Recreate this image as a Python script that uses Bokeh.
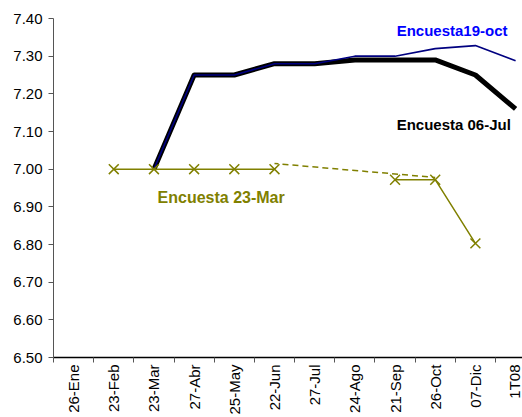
import math
from bokeh.plotting import figure
from bokeh.models import Range1d, FixedTicker, Label
from bokeh.embed import file_html
from bokeh.resources import INLINE

nan = float("nan")

categories = ["26-Ene", "23-Feb", "23-Mar", "27-Abr", "25-May", "22-Jun",
              "27-Jul", "24-Ago", "21-Sep", "26-Oct", "07-Dic", "1T08"]
enc_06jul = [nan, nan, 7.00, 7.25, 7.25, 7.28, 7.28, 7.29, 7.29, 7.29, 7.25, 7.16]
enc_19oct = [nan, nan, 7.00, 7.25, 7.25, 7.28, 7.28, 7.30, 7.30, 7.32, 7.328, 7.288]
enc_23mar = [nan, 7.00, 7.00, 7.00, 7.00, 7.00, nan, nan, 6.972, 6.972, 6.803, nan]
trend_cats = ["22-Jun", "26-Oct"]
trend_vals = [7.015, 6.978]
y_ticks = [6.5, 6.6, 6.7, 6.8, 6.9, 7.0, 7.1, 7.2, 7.3, 7.4]

xs = [i + 0.5 for i in range(len(categories))]
trend_x = [categories.index(c) + 0.5 for c in trend_cats]

FONT = "Liberation Sans"

p = figure(width=522, height=417, output_backend="svg", toolbar_location=None,
           x_range=Range1d(0, 11.672), y_range=Range1d(6.5, 7.4),
           min_border_left=53, min_border_right=0, min_border_top=18,
           min_border_bottom=60, outline_line_color=None,
           background_fill_color="white", border_fill_color="white")
p.grid.visible = False

# x axis
xa = p.xaxis[0]
xa.ticker = FixedTicker(ticks=xs, minor_ticks=list(range(len(categories))))
xa.major_label_overrides = {x: c for x, c in zip(xs, categories)}
xa.major_label_orientation = math.pi / 2
xa.major_tick_out = 0
xa.major_tick_in = 0
xa.minor_tick_out = 5
xa.minor_tick_in = 0
xa.minor_tick_line_color = "#555555"
xa.axis_line_color = "black"
xa.axis_line_width = 1.5
xa.major_label_text_font = FONT
xa.major_label_text_font_size = "15px"
xa.major_label_text_color = "black"
xa.major_label_standoff = 2

# y axis
ya = p.yaxis[0]
ya.ticker = FixedTicker(ticks=y_ticks)
ya.major_label_overrides = {t: f"{t:.2f}" for t in y_ticks}
ya.minor_tick_line_color = None
ya.major_tick_out = 5
ya.major_tick_in = 0
ya.major_tick_line_color = "#555555"
ya.axis_line_color = "#555555"
ya.major_label_text_font = FONT
ya.major_label_text_font_size = "15px"
ya.major_label_text_color = "black"
ya.major_label_standoff = 6

# series
p.line(xs, enc_06jul, line_color="black", line_width=5, line_join="round")
p.line(xs, enc_19oct, line_color="#000080", line_width=1.6)
p.line(trend_x, trend_vals, line_color="#808000", line_width=1.5,
       line_dash="6 4", line_dash_offset=2)
p.line(xs, enc_23mar, line_color="#808000", line_width=1.5)
p.scatter(xs, enc_23mar, marker="x", size=14, line_color="#808000", line_width=1.5)

# labels
p.add_layout(Label(x=8.54, y=7.368, text="Encuesta19-oct", text_color="#0000FF",
                   text_font=FONT, text_font_style="bold", text_font_size="15px",
                   text_baseline="alphabetic"))
p.add_layout(Label(x=8.54, y=7.119, text="Encuesta 06-Jul", text_color="black",
                   text_font=FONT, text_font_style="bold", text_font_size="15px",
                   text_baseline="alphabetic"))
p.add_layout(Label(x=2.59, y=6.925, text="Encuesta 23-Mar", text_color="#808000",
                   text_font=FONT, text_font_style="bold", text_font_size="16px",
                   text_baseline="alphabetic"))

open("out.html", "w").write(file_html(p, INLINE))
